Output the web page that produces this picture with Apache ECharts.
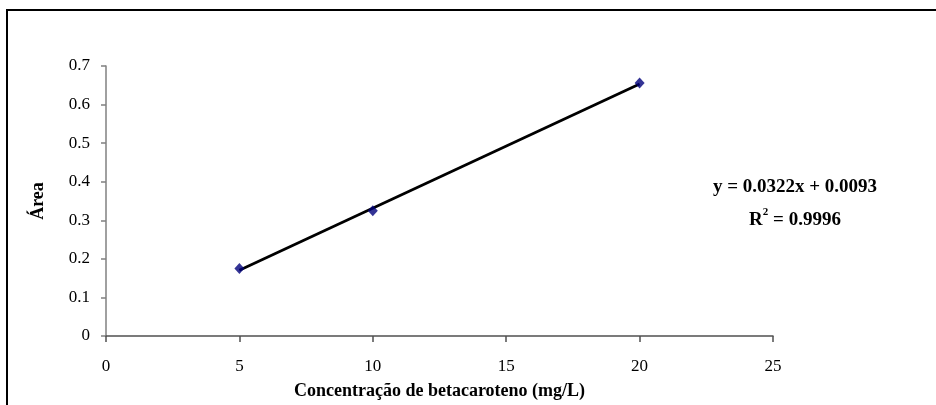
<!DOCTYPE html>
<html>
<head>
<meta charset="utf-8">
<script src="https://cdn.jsdelivr.net/npm/echarts@6/dist/echarts.min.js"></script>
<style>
  html, body { margin: 0; padding: 0; background: #fff; overflow: hidden; }
  #chart { width: 936px; height: 405px; }
</style>
</head>
<body>
<div id="chart"></div>
<script>
// Calibration standards: concentration (mg/L) and measured peak area
const concentrations = [5, 10, 20];
const areas = [0.175, 0.325, 0.656];

// Linear fit reported on the chart
const slope = 0.0322;
const intercept = 0.0093;
const rSquared = 0.9996;

const xTicks = [0, 5, 10, 15, 20, 25];
const yTicks = [0, 0.1, 0.2, 0.3, 0.4, 0.5, 0.6, 0.7];

const points = concentrations.map((c, i) => [c, areas[i]]);
const xFitMin = Math.min(...concentrations);
const xFitMax = Math.max(...concentrations);
const fitLine = [xFitMin, xFitMax].map(x => [x, slope * x + intercept]);

const serif = '"Liberation Serif", "Times New Roman", serif';

const chart = echarts.init(document.getElementById('chart'), null, { renderer: 'canvas' });
chart.setOption({
  backgroundColor: '#fff',
  animation: false,
  grid: { left: 106, top: 66, width: 667, height: 275, containLabel: false },
  xAxis: {
    type: 'value',
    min: xTicks[0],
    max: xTicks[xTicks.length - 1],
    interval: 5,
    name: 'Concentração de betacaroteno (mg/L)',
    nameLocation: 'middle',
    nameGap: 46,
    nameTextStyle: { fontFamily: serif, fontWeight: 'bold', fontSize: 18, color: '#000' },
    axisLine: { show: true, onZero: false, lineStyle: { color: '#505050', width: 1.5 } },
    axisTick: { show: true, inside: false, length: 6, lineStyle: { color: '#505050', width: 1.5 } },
    axisLabel: { margin: 22, fontFamily: serif, fontSize: 17, color: '#000' },
    splitLine: { show: false }
  },
  yAxis: {
    type: 'value',
    min: yTicks[0],
    max: yTicks[yTicks.length - 1],
    interval: 0.1,
    name: 'Área',
    nameLocation: 'middle',
    nameGap: 59,
    nameRotate: 90,
    nameTextStyle: { fontFamily: serif, fontWeight: 'bold', fontSize: 18, color: '#000' },
    axisLine: { show: true, lineStyle: { color: '#808080', width: 1.5 } },
    axisTick: { show: true, inside: false, length: 5, lineStyle: { color: '#808080', width: 1.5 } },
    axisLabel: { margin: 16, fontFamily: serif, fontSize: 17, color: '#000',
                 formatter: v => String(Math.round(v * 10) / 10) },
    splitLine: { show: false }
  },
  series: [
    {
      name: 'Linear fit',
      type: 'line',
      data: fitLine,
      showSymbol: false,
      symbol: 'none',
      lineStyle: { color: '#000', width: 2.8 },
      z: 2
    },
    {
      name: 'Standards',
      type: 'scatter',
      data: points,
      symbol: 'diamond',
      symbolSize: [10, 11],
      itemStyle: { color: '#00007a' },
      z: 3
    }
  ],
  graphic: [
    {
      type: 'rect',
      shape: { x: 7, y: 10, width: 940, height: 410 },
      style: { fill: 'none', stroke: '#000', lineWidth: 2 },
      silent: true,
      z: 10
    },
    {
      type: 'text',
      x: 795,
      y: 187,
      style: {
        text: 'y = ' + slope + 'x + ' + intercept,
        font: 'bold 19px ' + serif,
        fill: '#000',
        align: 'center',
        verticalAlign: 'middle'
      }
    },
    {
      type: 'text',
      x: 795,
      y: 218,
      style: {
        text: '{b|R}{s|2}{b| = ' + rSquared + '}',
        align: 'center',
        verticalAlign: 'middle',
        rich: {
          b: { font: 'bold 19px ' + serif, fill: '#000', verticalAlign: 'bottom' },
          s: { font: 'bold 11px ' + serif, fill: '#000', verticalAlign: 'top', padding: [0, 0, 12, 0] }
        }
      }
    }
  ]
});
</script>
</body>
</html>
